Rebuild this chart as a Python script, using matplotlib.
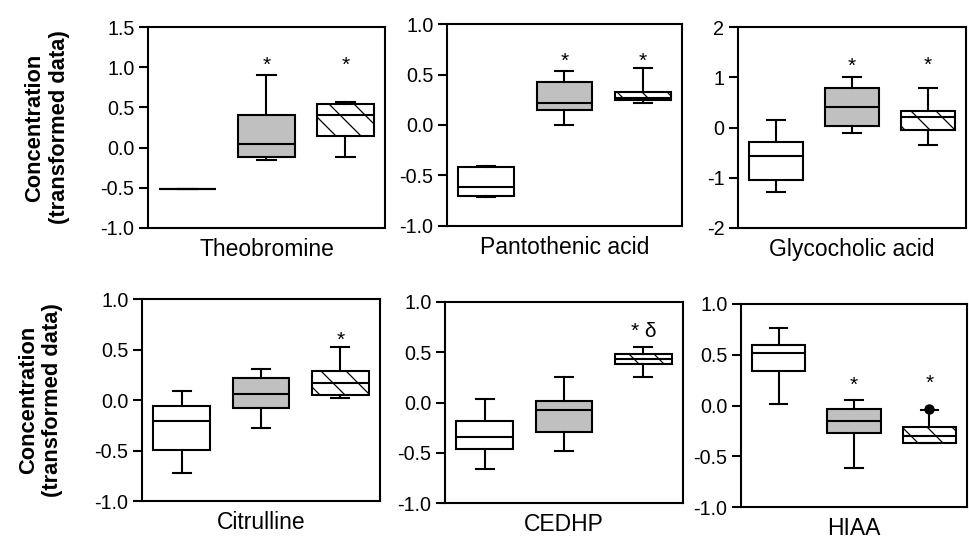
import numpy as np
import matplotlib
matplotlib.use('Agg')
import matplotlib.pyplot as plt

plt.rcParams['font.family'] = ['Liberation Sans', 'DejaVu Sans']
plt.rcParams['axes.unicode_minus'] = False
plt.rcParams['hatch.linewidth'] = 0.6

# 数据 (从图上读出的箱线图统计量)
names = ['Theobromine', 'Pantothenic acid', 'Glycocholic acid',
         'Citrulline', 'CEDHP', 'HIAA']
whisker_low = [[-0.52, -0.15, -0.12],
               [-0.71, 0.00, 0.215],
               [-1.28, -0.11, -0.35],
               [-0.72, -0.28, 0.023],
               [-0.665, -0.48, 0.25],
               [0.017, -0.62, -0.37]]
q1 = [[-0.52, -0.12, 0.14],
      [-0.706, 0.145, 0.25],
      [-1.04, 0.03, -0.04],
      [-0.49, -0.083, 0.046],
      [-0.465, -0.29, 0.385],
      [0.34, -0.27, -0.37]]
median = [[-0.52, 0.05, 0.40],
          [-0.614, 0.22, 0.27],
          [-0.56, 0.40, 0.20],
          [-0.21, 0.06, 0.17],
          [-0.34, -0.076, 0.435],
          [0.515, -0.155, -0.30]]
q3 = [[-0.52, 0.40, 0.54],
      [-0.416, 0.43, 0.33],
      [-0.29, 0.78, 0.33],
      [-0.063, 0.22, 0.29],
      [-0.18, 0.017, 0.48],
      [0.60, -0.036, -0.21]]
whisker_high = [[-0.52, 0.90, 0.57],
                [-0.406, 0.535, 0.568],
                [0.146, 1.00, 0.78],
                [0.09, 0.305, 0.52],
                [0.036, 0.25, 0.55],
                [0.76, 0.055, -0.04]]
outliers = [[[], [], []],
            [[], [], []],
            [[], [], []],
            [[], [], []],
            [[], [], []],
            [[], [], [-0.035]]]
y_ranges = [(-1.0, 1.5), (-1.0, 1.0), (-2, 2),
            (-1.0, 1.0), (-1.0, 1.0), (-1.0, 1.0)]
y_steps = [0.5, 0.5, 1, 0.5, 0.5, 0.5]
y_formats = ['%.1f', '%.1f', '%d', '%.1f', '%.1f', '%.1f']
# 显著性标记: (组, y, 文本)
marks = [[(2, 1.10, '*'), (3, 1.10, '*')],
         [(2, 0.70, '*'), (3, 0.70, '*')],
         [(2, 1.34, '*'), (3, 1.37, '*')],
         [(3, 0.66, '*')],
         [(3, 0.77, '* δ')],
         [(2, 0.26, '*'), (3, 0.28, '*')]]

fills = ['white', '#c0c0c0', 'white']
hatches = [None, None, '\\\\']

# 每个子图的位置 [left, bottom, width, height]
rects = [[0.1527, 0.5786, 0.2446, 0.3714],
         [0.4613, 0.5823, 0.2425, 0.3733],
         [0.7616, 0.5786, 0.2353, 0.3714],
         [0.1465, 0.0739, 0.2457, 0.3734],
         [0.4592, 0.0702, 0.2457, 0.3716],
         [0.7647, 0.0628, 0.2333, 0.3753]]

fig = plt.figure(figsize=(969 / 150, 541 / 150), dpi=150)

for i in range(6):
    ax = fig.add_axes(rects[i])
    stats = []
    for g in range(3):
        stats.append({'whislo': whisker_low[i][g], 'q1': q1[i][g],
                      'med': median[i][g], 'q3': q3[i][g],
                      'whishi': whisker_high[i][g], 'fliers': outliers[i][g]})
    lp = dict(color='black', linewidth=1.0)
    res = ax.bxp(stats, positions=[1, 2, 3], widths=0.71, patch_artist=True,
                 capwidths=0.23, showfliers=True,
                 boxprops=dict(edgecolor='black', linewidth=1.0),
                 whiskerprops=lp, capprops=lp, medianprops=lp,
                 flierprops=dict(marker='o', markerfacecolor='black',
                                 markeredgecolor='black', markersize=4))
    for g, patch in enumerate(res['boxes']):
        patch.set_facecolor(fills[g])
        if hatches[g]:
            patch.set_hatch(hatches[g])

    for g, y, txt in marks[i]:
        ax.annotate(txt, (g, y), xytext=(0, -5.8), textcoords='offset points',
                    ha='center', va='baseline', fontsize=10)

    lo, hi = y_ranges[i]
    ticks = np.arange(lo, hi + y_steps[i] / 2, y_steps[i])
    ax.set_ylim(lo, hi)
    ax.set_yticks(ticks)
    ax.set_yticklabels([y_formats[i] % t for t in ticks])
    ax.set_xlim(0.5, 3.5)
    ax.set_xticks([])
    ax.tick_params(axis='y', direction='out', length=4.5, width=1.0,
                   pad=2, labelsize=9.5)
    for s in ax.spines.values():
        s.set_linewidth(1.0)
    ax.set_xlabel(names[i], fontsize=11, labelpad=5)

    if i in (0, 3):
        ax.set_ylabel('Concentration\n(transformed data)', fontsize=10.5,
                      fontweight='bold')
        ax.yaxis.set_label_coords(-0.33, 0.5)

fig.savefig('out.png', dpi=150)
